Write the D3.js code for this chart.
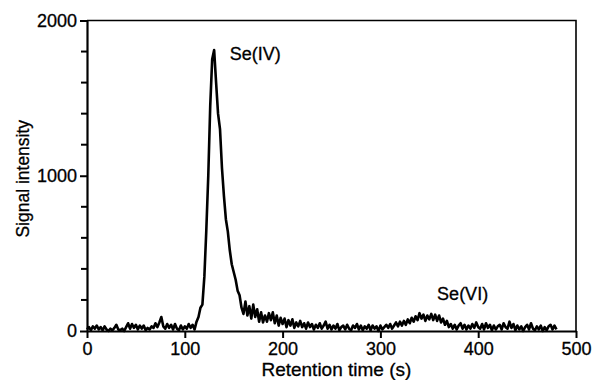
<!DOCTYPE html>
<html>
<head>
<meta charset="utf-8">
<script src="https://cdn.jsdelivr.net/npm/d3@7"></script>
<style>
  body { margin: 0; background: #fff; }
  text { font-family: "Liberation Sans", Arial, sans-serif; fill: #000; }
</style>
</head>
<body>
<div id="chart"></div>
<script>
/* Chromatogram: Se(IV) and Se(VI) */

// sampling interval of the detector (s)
const sampleStep = 2;

// signal intensity, one value every 2 s from 0 s to 480 s
const signal = [
    10, 25, 5, 30, 15, 35, 10, 25, 5, 30,          // 0-18
    10, 0, 15, 5, 20, 40, 10, 5, 15, 0,            // 20-38
    25, 50, 15, 45, 20, 40, 10, 35, 15, 35,        // 40-58
    5, 20, 10, 30, 20, 50, 25, 55, 90, 30,         // 60-78
    15, 45, 20, 40, 10, 45, 15, 5, 35, 10,         // 80-98
    30, 15, 45, 20, 40, 10, 60, 90, 150, 170,      // 100-118
    350, 650, 1000, 1450, 1750, 1810, 1600, 1400, 1300, 1050, // 120-138
    870, 720, 640, 520, 430, 380, 330, 260, 230, 150,         // 140-158
    110, 190, 100, 160, 80, 170, 90, 140, 60, 120,  // 160-178
    55, 100, 60, 115, 70, 120, 50, 100, 35, 85,     // 180-198
    45, 80, 25, 70, 35, 75, 20, 55, 30, 65,         // 200-218
    25, 50, 15, 55, 25, 45, 10, 40, 20, 50,         // 220-238
    15, 35, 60, 15, 40, 10, 35, 15, 45, 5,          // 240-258
    25, 35, 10, 40, 15, 5, 35, 20, 45, 10,          // 260-278
    35, 5, 30, 15, 40, 5, 35, 15, 30, 0,            // 280-298
    35, 10, 25, 40, 20, 45, 15, 35, 55, 30,         // 300-318
    60, 35, 65, 40, 75, 50, 85, 60, 95, 70,         // 320-338
    115, 80, 105, 65, 100, 75, 110, 70, 105, 65,    // 340-358
    100, 55, 80, 40, 65, 25, 45, 15, 40, 10,        // 360-378
    35, 50, 15, 40, 10, 35, 15, 45, 20, 55,         // 380-398
    25, 15, 45, 10, 50, 20, 40, 5, 35, 10,          // 400-418
    30, 40, 10, 50, 25, 15, 60, 20, 45, 5,          // 420-438
    35, 10, 30, 0, 25, 40, 10, 50, 15, 5,           // 440-458
    30, 10, 35, 0, 25, 5, 30, 40, 10, 35,           // 460-478
    10                                              // 480
];

// peak labels: retention time and intensity at the label baseline
const peakNames = ["Se(IV)", "Se(VI)"];
const peakLabelX = [146, 358];
const peakLabelY = [1745, 200];

const xTicks = [0, 100, 200, 300, 400, 500];
const yTicks = [0, 1000, 2000];
const yMinorTicks = [200, 400, 600, 800, 1200, 1400, 1600, 1800];

const height = 380,
      width = 592,
      margin = ({ top: 20.5, right: 16, bottom: 49, left: 87 });

let svg = d3.select("#chart")
    .append("svg")
    .attr("width", width)
    .attr("height", height);

let x = d3.scaleLinear()
    .domain([0, 500])
    .range([margin.left, width - margin.right]);

let y = d3.scaleLinear()
    .domain([0, 2000])
    .range([height - margin.bottom, margin.top]);

// top and right frame lines
svg.append("path")
    .attr("d", `M${x(0)},${y(2000)}H${x(500)}V${y(0)}`)
    .attr("fill", "none")
    .attr("stroke", "#000")
    .attr("stroke-width", 1.6);

// x axis
let gx = svg.append("g")
    .attr("transform", `translate(0,${y(0)})`)
    .call(d3.axisBottom(x).tickValues(xTicks).tickFormat(d3.format("d"))
        .tickSize(7).tickPadding(3).tickSizeOuter(0));

// y axis
let gy = svg.append("g")
    .attr("transform", `translate(${x(0)},0)`)
    .call(d3.axisLeft(y).tickValues(yTicks).tickFormat(d3.format("d"))
        .tickSize(7).tickPadding(3).tickSizeOuter(0));

// y minor ticks
gy.selectAll(".minor")
    .data(yMinorTicks)
    .join("line")
    .attr("class", "minor")
    .attr("x1", -6)
    .attr("x2", 0)
    .attr("y1", d => y(d))
    .attr("y2", d => y(d))
    .attr("stroke", "#000")
    .attr("stroke-width", 2);

for (let g of [gx, gy]) {
    g.select(".domain").attr("stroke-width", 2.2);
    g.selectAll(".tick line").attr("stroke-width", 2);
    g.selectAll("text")
        .attr("font-family", "Liberation Sans, Arial, sans-serif")
        .style("font-size", "18px")
        .attr("fill", "#000")
        .attr("stroke", "#000")
        .attr("stroke-width", 0.3);
}
gx.selectAll(".tick text").attr("dy", "0.75em");

// axis titles
svg.append("text")
    .attr("x", x(255))
    .attr("y", 376)
    .attr("text-anchor", "middle")
    .style("font-size", "19px")
    .attr("stroke", "#000")
    .attr("stroke-width", 0.3)
    .text("Retention time (s)");

svg.append("text")
    .attr("transform", `translate(29,${y(1000) + 3}) rotate(-90)`)
    .attr("text-anchor", "middle")
    .style("font-size", "17.5px")
    .attr("stroke", "#000")
    .attr("stroke-width", 0.3)
    .text("Signal intensity");

// trace
let line = d3.line()
    .x((d, i) => x(i * sampleStep))
    .y(d => y(d));

svg.append("path")
    .datum(signal)
    .attr("d", line)
    .attr("fill", "none")
    .attr("stroke", "#000")
    .attr("stroke-width", 2.6)
    .attr("stroke-linejoin", "round");

// peak labels
svg.selectAll(".peak")
    .data(peakNames)
    .join("text")
    .attr("class", "peak")
    .attr("x", (d, i) => x(peakLabelX[i]))
    .attr("y", (d, i) => y(peakLabelY[i]))
    .style("font-size", "18px")
    .attr("stroke", "#000")
    .attr("stroke-width", 0.3)
    .text(d => d);
</script>
</body>
</html>
